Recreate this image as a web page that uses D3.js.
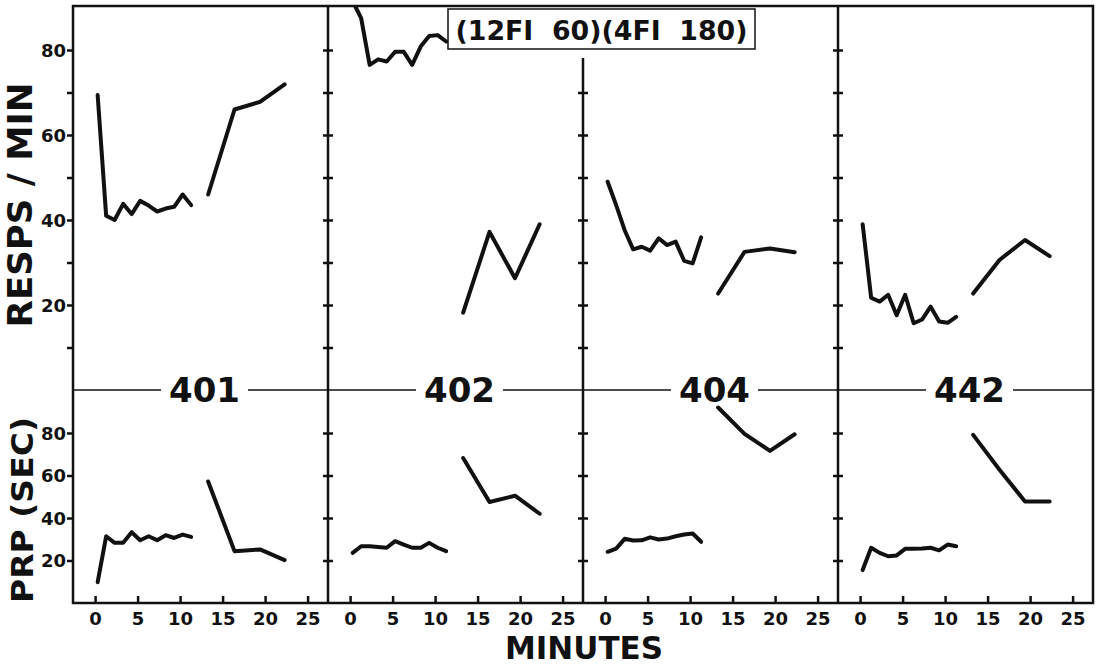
<!DOCTYPE html>
<html>
<head>
<meta charset="utf-8">
<script src="https://cdn.jsdelivr.net/npm/d3@7"></script>
<style>
  body { margin: 0; background: #fff; }
  svg { display: block; }
  .tick-label { font-family: "DejaVu Sans", sans-serif; font-weight: bold; font-size: 18px; fill: #111; }
  .big { font-family: "DejaVu Sans", sans-serif; font-weight: bold; fill: #111; }
</style>
</head>
<body>
<div id="svg-container"></div>
<script>
////////////////////////////////////////////////////////////////////
////////////////////////////  Data  ////////////////////////////////
const panels = ["401", "402", "404", "442"];

// 12 FI 60 then 4 FI 180 (minutes into session)
const minutesFI60 = [0.3, 1.3, 2.3, 3.3, 4.3, 5.3, 6.3, 7.3, 8.3, 9.3, 10.3, 11.3];
const minutesFI180 = [13.3, 16.4, 19.4, 22.3];

// responses / min, one row per bird
const respsFI60 = [
  [69.4, 41, 40, 43.8, 41.4, 44.5, 43.4, 42, 42.7, 43.1, 46, 43.5],
  [91.5, 87.5, 76.5, 77.8, 77.3, 79.6, 79.6, 76.5, 80.8, 83.3, 83.5, 82],
  [49, 43.5, 37.6, 33.1, 33.7, 32.8, 35.7, 34.1, 34.9, 30.4, 29.8, 35.9],
  [39, 21.7, 20.8, 22.4, 17.6, 22.4, 15.7, 16.6, 19.6, 16.1, 15.8, 17.2]
];
const respsFI180 = [
  [46, 66, 67.8, 71.9],
  [18.2, 37.2, 26.3, 39],
  [22.7, 32.5, 33.3, 32.4],
  [22.7, 30.6, 35.3, 31.5]
];

// post-reinforcement pause (sec)
const prpFI60 = [
  [9.8, 31.4, 28.3, 28.3, 33.3, 29.5, 31.4, 29.5, 31.9, 30.6, 32.2, 31.1],
  [23.6, 26.7, 26.7, 26.4, 26, 29.1, 27.5, 26, 26, 28.3, 26, 24.4],
  [24.1, 25.6, 30.2, 29.4, 29.5, 30.9, 29.9, 30.3, 31.4, 32.2, 32.7, 28.8],
  [15.5, 26, 23.6, 22, 22.4, 25.5, 25.5, 25.6, 26, 24.8, 27.5, 26.7]
];
const prpFI180 = [
  [57.2, 24.4, 25.2, 20.2],
  [68.2, 47.5, 50.5, 42],
  [92, 79.6, 71.6, 79.4],
  [79.1, 62.7, 47.8, 47.8]
];

const respTicks = [10, 20, 30, 40, 50, 60, 70, 80];
const respLabels = [20, 40, 60, 80];
const prpTicks = [20, 40, 60, 80];
const minuteTicks = [0, 5, 10, 15, 20, 25];
const scheduleText = "(12FI  60)(4FI  180)";

////////////////////////////////////////////////////////////////////
////////////////////////////  Init  ////////////////////////////////
const width = 1101;
const height = 668;
const frame = { left: 73, right: 1093, top: 6, mid: 390, bottom: 603 };
const panelWidth = (frame.right - frame.left) / panels.length;
const box = { x: 448, y: 9, w: 307, h: 40 };

const svg = d3
  .select("#svg-container")
  .append("svg")
  .attr("width", width)
  .attr("height", height);

// scales
const yResp = d3.scaleLinear().domain([0, 80]).range([frame.mid, 50]);
const yPrp = d3.scaleLinear().domain([0, 80]).range([frame.bottom, 433]);
const panelX = (i) =>
  d3
    .scaleLinear()
    .domain([-2.6, 27.4])
    .range([frame.left + i * panelWidth, frame.left + (i + 1) * panelWidth]);

const lineGen = (x, y, xs) =>
  d3
    .line()
    .x((d, j) => x(xs[j]))
    .y((d) => y(d));

// clip regions
const defs = svg.append("defs");
panels.forEach((p, i) => {
  const x0 = frame.left + i * panelWidth;
  defs
    .append("clipPath")
    .attr("id", "clip-top-" + i)
    .append("rect")
    .attr("x", x0)
    .attr("y", frame.top)
    .attr("width", panelWidth)
    .attr("height", frame.mid - frame.top);
});

////////////////////////////////////////////////////////////////////
////////////////////////////  Panels  //////////////////////////////
panels.forEach((p, i) => {
  const x = panelX(i);
  const x0 = frame.left + i * panelWidth;

  // y ticks on the panel's left line
  if (i === 0) {
    const gTop = svg
      .append("g")
      .attr("transform", `translate(${x0}, 0)`)
      .call(
        d3
          .axisLeft(yResp)
          .tickValues(respTicks)
          .tickSize(6)
          .tickPadding(1)
          .tickFormat((d) => (respLabels.includes(d) ? d : ""))
      );
    const gBot = svg
      .append("g")
      .attr("transform", `translate(${x0}, 0)`)
      .call(d3.axisLeft(yPrp).tickValues(prpTicks).tickSize(6).tickPadding(1));
    [gTop, gBot].forEach((g) => {
      g.select(".domain").remove();
      g.selectAll("line").attr("stroke", "#111").attr("stroke-width", 2.5);
      g.selectAll("text").attr("class", "tick-label").attr("dy", "0.36em");
    });
  } else {
    // line between panels 2 and 3 stops under the schedule box
    const topStart = i === 2 ? box.y + box.h + 9 : frame.top;
    const ticksHere = respTicks.filter((d) => yResp(d) > topStart + 4);
    const gTop = svg
      .append("g")
      .attr("transform", `translate(${x0 + 5}, 0)`)
      .call(d3.axisLeft(yResp).tickValues(ticksHere).tickSize(10).tickFormat(""));
    const gBot = svg
      .append("g")
      .attr("transform", `translate(${x0 + 5}, 0)`)
      .call(d3.axisLeft(yPrp).tickValues(prpTicks).tickSize(10).tickFormat(""));
    [gTop, gBot].forEach((g) => {
      g.select(".domain").remove();
      g.selectAll("line").attr("stroke", "#111").attr("stroke-width", 2.5);
    });

    svg
      .append("line")
      .attr("x1", x0)
      .attr("x2", x0)
      .attr("y1", topStart)
      .attr("y2", frame.bottom)
      .attr("stroke", "#111")
      .attr("stroke-width", 2.5);
  }

  // x axis
  const gx = svg
    .append("g")
    .attr("transform", `translate(0, ${frame.bottom})`)
    .call(d3.axisBottom(x).tickValues(minuteTicks).tickSize(-7).tickPadding(9));
  gx.select(".domain").remove();
  gx.selectAll("line").attr("stroke", "#111").attr("stroke-width", 2.5);
  gx.selectAll("text").attr("class", "tick-label");

  // data lines
  const gLines = svg.append("g").attr("clip-path", `url(#clip-top-${i})`);
  [
    [respsFI60[i], minutesFI60],
    [respsFI180[i], minutesFI180]
  ].forEach(([vals, xs]) => {
    gLines
      .append("path")
      .datum(vals)
      .attr("d", lineGen(x, yResp, xs))
      .attr("fill", "none")
      .attr("stroke", "#111")
      .attr("stroke-width", 4)
      .attr("stroke-linejoin", "round")
      .attr("stroke-linecap", "round");
  });
  [
    [prpFI60[i], minutesFI60],
    [prpFI180[i], minutesFI180]
  ].forEach(([vals, xs]) => {
    svg
      .append("path")
      .datum(vals)
      .attr("d", lineGen(x, yPrp, xs))
      .attr("fill", "none")
      .attr("stroke", "#111")
      .attr("stroke-width", 4)
      .attr("stroke-linejoin", "round")
      .attr("stroke-linecap", "round");
  });
});

////////////////////////////////////////////////////////////////////
////////////////////////////  Frame  ///////////////////////////////
// divider between the two measures
svg
  .append("line")
  .attr("x1", frame.left)
  .attr("x2", frame.right)
  .attr("y1", frame.mid)
  .attr("y2", frame.mid)
  .attr("stroke", "#111")
  .attr("stroke-width", 1.5);

svg
  .append("path")
  .attr(
    "d",
    `M${frame.left},${frame.bottom}V${frame.top}H${frame.right}V${frame.bottom}Z`
  )
  .attr("fill", "none")
  .attr("stroke", "#111")
  .attr("stroke-width", 2.5);

// bird labels, sitting on the divider
panels.forEach((p, i) => {
  const cx = frame.left + (i + 0.5) * panelWidth + 4;
  const t = svg
    .append("text")
    .attr("class", "big")
    .attr("x", cx)
    .attr("y", frame.mid + 12)
    .attr("text-anchor", "middle")
    .attr("font-size", 34)
    .text(p);
  const bb = t.node().getBBox();
  svg
    .insert("rect", () => t.node())
    .attr("x", bb.x - 8)
    .attr("y", frame.mid - 3)
    .attr("width", bb.width + 16)
    .attr("height", 6)
    .attr("fill", "#fff");
});

// schedule box
svg
  .append("rect")
  .attr("x", box.x)
  .attr("y", box.y)
  .attr("width", box.w)
  .attr("height", box.h)
  .attr("fill", "#fff")
  .attr("stroke", "#111")
  .attr("stroke-width", 1.5);

svg
  .append("text")
  .attr("class", "big")
  .attr("x", box.x + box.w / 2)
  .attr("y", box.y + 31)
  .attr("text-anchor", "middle")
  .attr("font-size", 27)
  .attr("textLength", 292)
  .attr("lengthAdjust", "spacingAndGlyphs")
  .style("white-space", "pre")
  .text(scheduleText);

////////////////////////////////////////////////////////////////////
////////////////////////////  Units  ///////////////////////////////
svg
  .append("text")
  .attr("class", "big")
  .attr("transform", "translate(32, 205) rotate(-90)")
  .attr("text-anchor", "middle")
  .attr("font-size", 33)
  .attr("textLength", 245)
  .attr("lengthAdjust", "spacingAndGlyphs")
  .text("RESPS / MIN");

svg
  .append("text")
  .attr("class", "big")
  .attr("transform", "translate(33, 510) rotate(-90)")
  .attr("text-anchor", "middle")
  .attr("font-size", 31)
  .attr("textLength", 186)
  .attr("lengthAdjust", "spacingAndGlyphs")
  .text("PRP (SEC)");

svg
  .append("text")
  .attr("class", "big")
  .attr("x", 584)
  .attr("y", 659)
  .attr("text-anchor", "middle")
  .attr("font-size", 32)
  .attr("textLength", 158)
  .attr("lengthAdjust", "spacingAndGlyphs")
  .text("MINUTES");
</script>
</body>
</html>
